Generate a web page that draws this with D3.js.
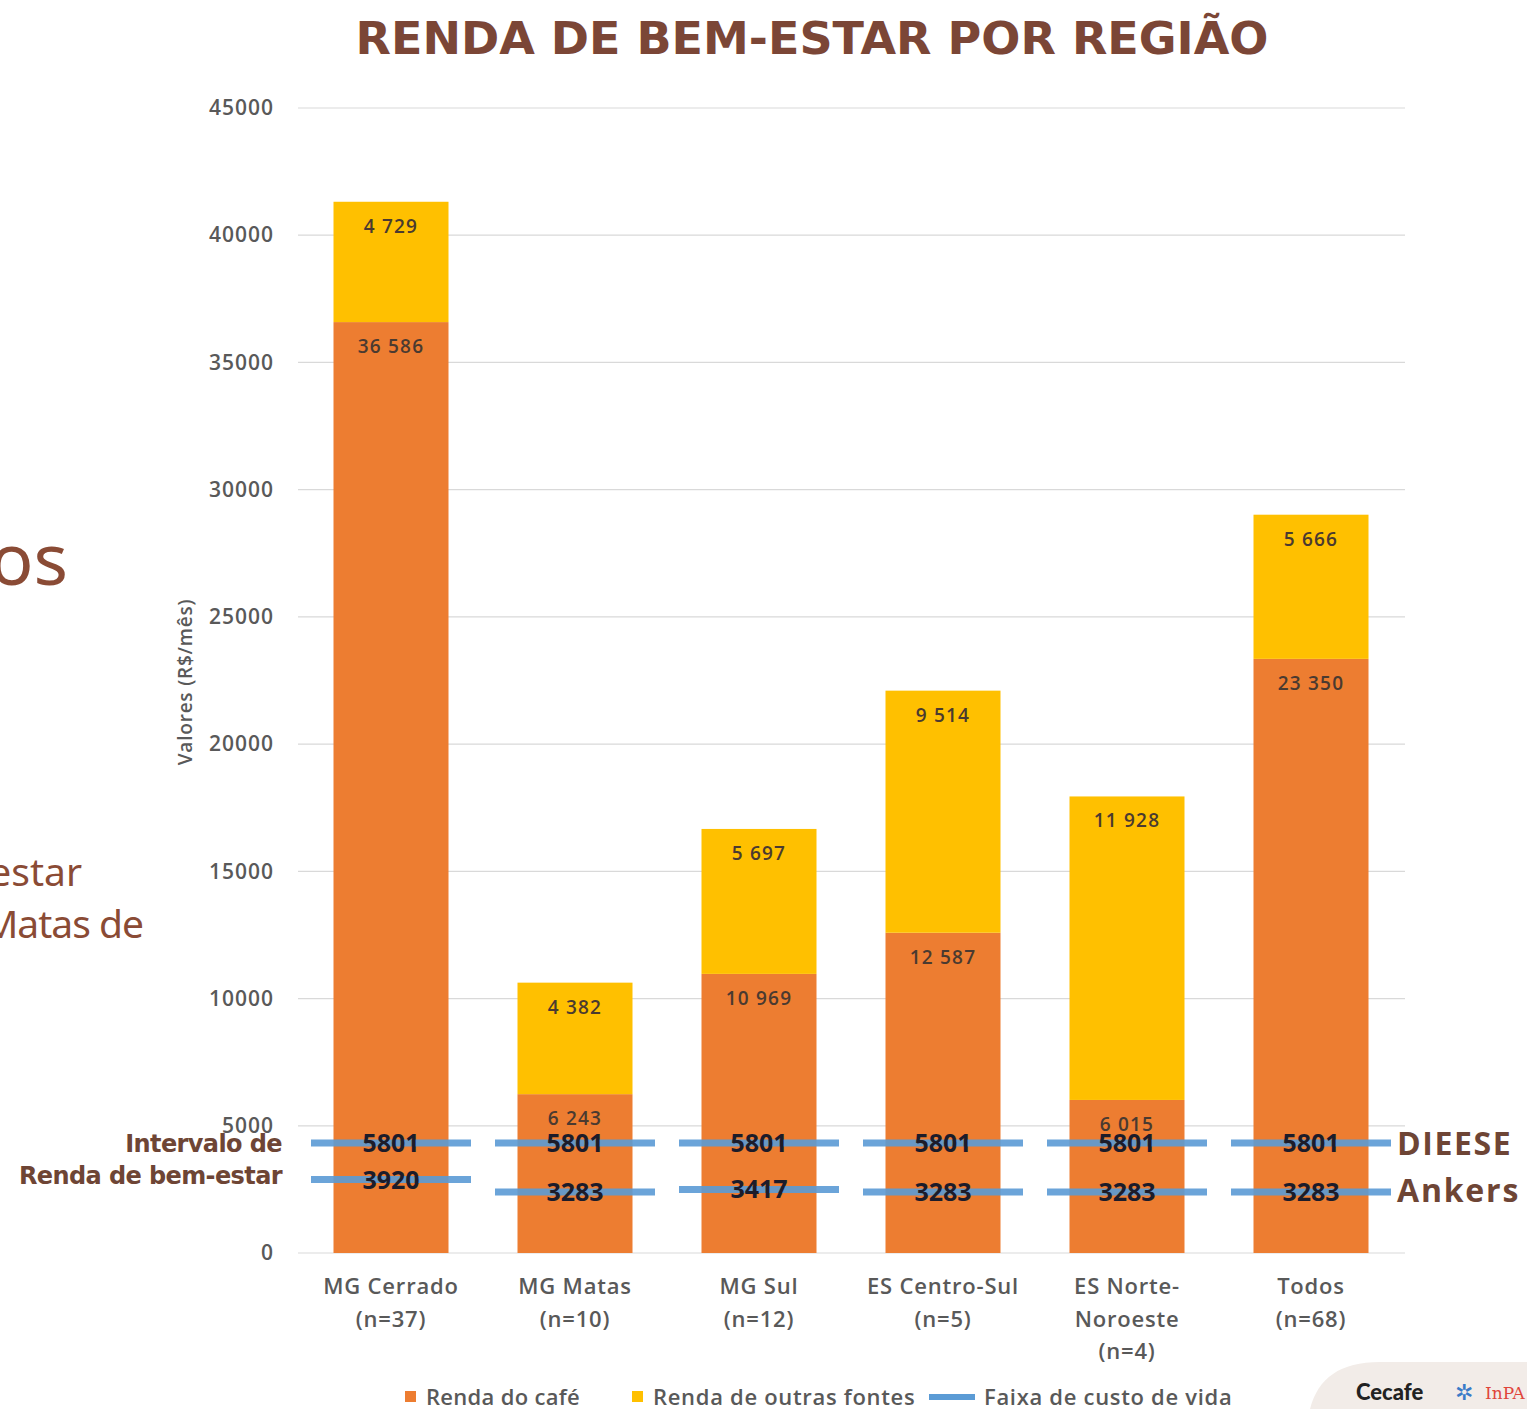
<!DOCTYPE html>
<html>
<head>
<meta charset="utf-8">
<script src="https://cdn.jsdelivr.net/npm/d3@7"></script>
<style>
  body { margin: 0; background: #fff; }
  svg { display: block; }
</style>
</head>
<body>
<div id="graphic"></div>
<script>
// data
const regions = ["MG Cerrado", "MG Matas", "MG Sul", "ES Centro-Sul", "ES Norte-Noroeste", "Todos"];
const regionLines = [["MG Cerrado", "(n=37)"], ["MG Matas", "(n=10)"], ["MG Sul", "(n=12)"],
                     ["ES Centro-Sul", "(n=5)"], ["ES Norte-", "Noroeste", "(n=4)"], ["Todos", "(n=68)"]];
const rendaCafe = [36586, 6243, 10969, 12587, 6015, 23350];
const rendaOutras = [4729, 4382, 5697, 9514, 11928, 5666];
const faixaAlta = [5801, 5801, 5801, 5801, 5801, 5801];
const faixaBaixa = [3920, 3283, 3417, 3283, 3283, 3283];
const yTicks = [0, 5000, 10000, 15000, 20000, 25000, 30000, 35000, 40000, 45000];

const W = 1527, H = 1409;
const brown = "#6e4535";
const grey = "#595959";

const svg = d3.select("#graphic")
    .append("svg")
    .attr("width", W)
    .attr("height", H);

// background slide text, cut at the left edge
svg.append("text").attr("x", 68).attr("y", 585).attr("text-anchor", "end")
    .style("font-family", "Noto Sans").style("font-size", "72px").style("fill", "#8a4b35").text("os");
svg.append("text").attr("x", 82).attr("y", 886).attr("text-anchor", "end")
    .style("font-family", "Noto Sans").style("font-size", "39px").style("fill", "#8a4b35").text("estar");
svg.append("text").attr("x", 143).attr("y", 938).attr("text-anchor", "end")
    .style("font-family", "Noto Sans").style("font-size", "39px").style("fill", "#8a4b35")
    .style("letter-spacing", "-1px").text("Matas de");

// title
svg.append("text")
    .attr("x", 812).attr("y", 54)
    .attr("text-anchor", "middle")
    .attr("textLength", 913).attr("lengthAdjust", "spacingAndGlyphs")
    .style("font-family", "DejaVu Sans").style("font-weight", 700)
    .style("font-size", "45px")
    .style("fill", "#7b4636")
    .text("RENDA DE BEM-ESTAR POR REGIÃO");

// scales
const x = d3.scaleBand()
    .domain(regions)
    .range([299, 1403])
    .paddingInner(0.375)
    .paddingOuter(0.1875);

const y = d3.scaleLinear()
    .domain([0, 45000])
    .range([1253, 108]);

// the cost-of-living band is an overlay drawn near the bottom, not on the value axis
const yRef = d3.scaleLinear()
    .domain([3283, 5801])
    .range([y(0) - 61, y(0) - 110]);

// gridlines
svg.append("g")
    .selectAll("line")
    .data(yTicks)
    .join("line")
    .attr("x1", 298).attr("x2", 1405)
    .attr("y1", d => y(d)).attr("y2", d => y(d))
    .style("stroke", "#d9d9d9").style("stroke-width", 1.2);

// y axis
const yAxis = svg.append("g")
    .attr("transform", "translate(282,0)")
    .call(d3.axisLeft(y).tickValues(yTicks).tickSize(0).tickPadding(8).tickFormat(d3.format("d")));
yAxis.select(".domain").remove();
yAxis.selectAll("text")
    .style("font-family", "Open Sans").style("font-size", "21px").style("font-weight", 600)
    .style("letter-spacing", "1px")
    .style("fill", grey);

svg.append("text")
    .attr("transform", "translate(192,682) rotate(-90)")
    .attr("text-anchor", "middle")
    .style("font-family", "Open Sans").style("font-size", "19px").style("font-weight", 600)
    .style("letter-spacing", "0.8px")
    .style("fill", grey)
    .text("Valores (R$/mês)");

// stacked bars
const fmt = v => d3.format(",")(v).replace(/,/g, " ");
const rows = regions.map((r, i) => ({region: r, cafe: rendaCafe[i], outras: rendaOutras[i]}));

svg.append("g").selectAll("rect")
    .data(rows)
    .join("rect")
    .attr("x", d => x(d.region))
    .attr("width", x.bandwidth())
    .attr("y", d => y(d.cafe))
    .attr("height", d => y(0) - y(d.cafe))
    .style("fill", "#ed7d31");

svg.append("g").selectAll("rect")
    .data(rows)
    .join("rect")
    .attr("x", d => x(d.region))
    .attr("width", x.bandwidth())
    .attr("y", d => y(d.cafe + d.outras))
    .attr("height", d => y(d.cafe) - y(d.cafe + d.outras))
    .style("fill", "#ffc000");

const barLabel = (sel) => sel
    .attr("text-anchor", "middle")
    .style("font-family", "Open Sans").style("font-size", "19px").style("font-weight", 600)
    .style("letter-spacing", "1.2px")
    .style("fill", "#4a3a30");

svg.append("g").selectAll("text")
    .data(rows)
    .join("text")
    .attr("x", d => x(d.region) + x.bandwidth() / 2)
    .attr("y", d => y(d.cafe) + 31)
    .text(d => fmt(d.cafe))
    .call(barLabel);

svg.append("g").selectAll("text")
    .data(rows)
    .join("text")
    .attr("x", d => x(d.region) + x.bandwidth() / 2)
    .attr("y", d => y(d.cafe + d.outras) + 31)
    .text(d => fmt(d.outras))
    .call(barLabel);

// cost of living band segments
const segW = 160;
const faixa = [];
regions.forEach((r, i) => {
    faixa.push({region: r, v: faixaAlta[i]});
    faixa.push({region: r, v: faixaBaixa[i]});
});

svg.append("g").selectAll("line")
    .data(faixa)
    .join("line")
    .attr("x1", d => x(d.region) + x.bandwidth() / 2 - segW / 2)
    .attr("x2", d => x(d.region) + x.bandwidth() / 2 + segW / 2)
    .attr("y1", d => yRef(d.v)).attr("y2", d => yRef(d.v))
    .style("stroke", "#5b9bd5").style("stroke-width", 7).style("opacity", 0.9);

svg.append("g").selectAll("text")
    .data(faixa)
    .join("text")
    .attr("x", d => x(d.region) + x.bandwidth() / 2)
    .attr("y", d => yRef(d.v) + 9)
    .attr("text-anchor", "middle")
    .style("font-family", "Open Sans").style("font-size", "25px").style("font-weight", 700)
    .style("fill", "#1c1c2a")
    .text(d => d.v);

// annotations left and right of the band
svg.append("text").attr("x", 282).attr("y", yRef(5801) + 9).attr("text-anchor", "end")
    .style("font-family", "DejaVu Sans").style("font-weight", 700).style("font-size", "24px")
    .style("fill", brown).style("letter-spacing", "-0.6px").text("Intervalo de");
svg.append("text").attr("x", 282).attr("y", y(0) - 69).attr("text-anchor", "end")
    .style("font-family", "DejaVu Sans").style("font-weight", 700).style("font-size", "24px")
    .style("fill", brown).style("letter-spacing", "-0.6px").text("Renda de bem-estar");

svg.append("text").attr("x", 1397).attr("y", yRef(5801) + 12)
    .style("font-family", "Open Sans").style("font-weight", 700).style("font-size", "32px")
    .style("letter-spacing", "1.6px")
    .style("fill", brown).text("DIEESE");
svg.append("text").attr("x", 1397).attr("y", yRef(3283) + 10)
    .style("font-family", "Open Sans").style("font-weight", 700).style("font-size", "32px")
    .style("letter-spacing", "1.8px")
    .style("fill", brown).text("Ankers");

// x category labels
const xl = svg.append("g").selectAll("text")
    .data(regions)
    .join("text")
    .attr("x", d => x(d) + x.bandwidth() / 2)
    .attr("y", 1294)
    .attr("text-anchor", "middle")
    .style("font-family", "Open Sans").style("font-size", "22px").style("font-weight", 600)
    .style("letter-spacing", "0.8px")
    .style("fill", grey);
xl.selectAll("tspan")
    .data((d, i) => regionLines[i])
    .join("tspan")
    .attr("x", function() { return d3.select(this.parentNode).attr("x"); })
    .attr("dy", (d, i) => i === 0 ? 0 : 32.5)
    .text(d => d);

// legend
const legend = svg.append("g").style("font-family", "Open Sans").style("font-size", "22px")
    .style("font-weight", 600).style("fill", grey).style("letter-spacing", "0.3px");
legend.append("rect").attr("x", 405).attr("y", 1391).attr("width", 11).attr("height", 11).style("fill", "#ed7d31");
legend.append("text").attr("x", 426).attr("y", 1405).text("Renda do café");
legend.append("rect").attr("x", 632).attr("y", 1391).attr("width", 11).attr("height", 11).style("fill", "#ffc000");
legend.append("text").attr("x", 653).attr("y", 1405).attr("textLength", 262).text("Renda de outras fontes");
legend.append("line").attr("x1", 929).attr("x2", 975).attr("y1", 1397).attr("y2", 1397)
    .style("stroke", "#5b9bd5").style("stroke-width", 6);
legend.append("text").attr("x", 984).attr("y", 1405).attr("textLength", 248).text("Faixa de custo de vida");

// logo corner
svg.append("path")
    .attr("d", "M1310,1409 C1318,1378 1340,1362 1380,1362 L1527,1362 L1527,1409 Z")
    .style("fill", "#f2ece8");
svg.append("text").attr("x", 1356).attr("y", 1400)
    .style("font-family", "Lato").style("font-weight", 900).style("font-size", "22px")
    .style("fill", "#222").text("Cecafe");
svg.append("text").attr("x", 1455).attr("y", 1400)
    .style("font-family", "DejaVu Sans").style("font-weight", 700).style("font-size", "22px")
    .style("fill", "#3a7bc8").text("✲");
svg.append("text").attr("x", 1485).attr("y", 1399)
    .style("font-family", "DejaVu Serif").style("font-size", "17px")
    .style("fill", "#e0453a").text("InPA");
</script>
</body>
</html>
